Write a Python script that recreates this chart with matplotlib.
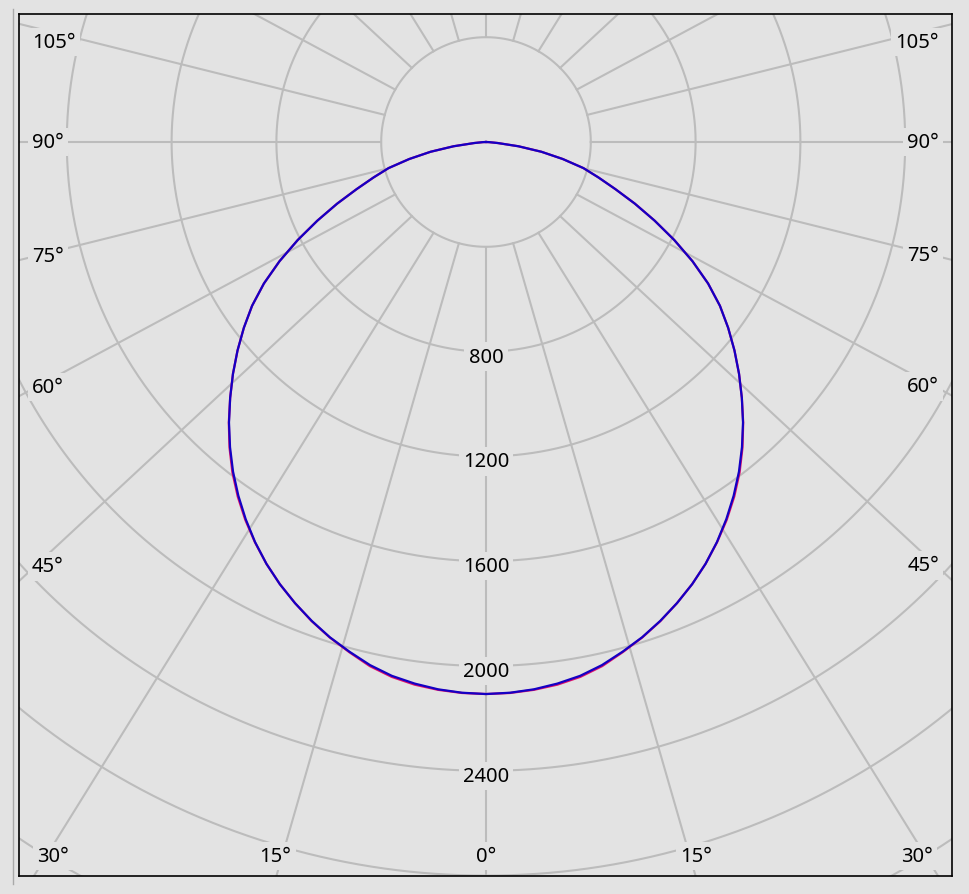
import numpy as np
import matplotlib.pyplot as plt
from matplotlib.lines import Line2D

#_Data__________________________________________________________________________
# Luminous intensity (cd) against gamma angle (deg from nadir), symmetric curves
gamma = [0, 2.5, 5, 7.5, 10, 12.5, 15, 17.5, 20, 22.5, 25, 27.5, 30, 32.5, 35,
         37.5, 40, 42.5, 45, 47.5, 50, 52.5, 55, 57.5, 60, 62.5, 65, 67.5, 70,
         72.5, 75, 77.5, 80, 82.5, 85, 87.5, 90]
i_c90_c270 = [2107, 2104, 2097, 2085, 2069, 2045, 2014, 1982, 1945, 1905, 1862,
              1815, 1763, 1707, 1648, 1586, 1520, 1452, 1381, 1310, 1238, 1165,
              1090, 1005, 910, 810, 710, 615, 525, 450, 385, 300, 215, 125, 45,
              12, 0]
i_c0_c180 = [2107, 2105, 2099, 2089, 2073, 2049, 2016, 1983, 1946, 1905, 1862,
             1815, 1764, 1710, 1652, 1590, 1523, 1453, 1381, 1310, 1238, 1165,
             1090, 1005, 910, 810, 710, 615, 525, 450, 385, 300, 215, 125, 45,
             12, 0]

ring_values = [400, 800, 1200, 1600, 2000, 2400, 2800, 3200, 3600]
ring_labels = [800, 1200, 1600, 2000, 2400]
spoke_angles = [0, 15, 30, 45, 60, 75, 90, 105, 120, 135, 150, 165, 180]
side_labels = [45, 60, 75, 90, 105]
bottom_labels = [0, 15, 30]

#_Style_________________________________________________________________________
bg = '#e3e3e3'
grid_color = '#bcbcbc'
c0_color = '#e0106a'
c90_color = '#1400c4'
font = dict(family=['Noto Sans', 'DejaVu Sans'], fontsize=14.5, color='black')
label_box = dict(facecolor=bg, edgecolor='none', pad=3)

# figure geometry in pixels
W, H = 969, 895
left, right, top, bottom = 19, 952, 15, 877
cx, cy = 486, 143            # pole of the diagram
px = 104.8 / 400             # pixels per cd
stretch = 1.07               # the spokes are drawn slightly widened

#_Figure________________________________________________________________________
fig = plt.figure(figsize=(W / 100, H / 100), dpi=100, facecolor=bg)
ax = fig.add_axes([left / W, 1 - bottom / H, (right - left) / W, (bottom - top) / H])
x_lo, x_hi = (left - cx) / px, (right - cx) / px
y_lo, y_hi = (cy - bottom) / px, (cy - top) / px
ax.set_xlim(x_lo, x_hi)
ax.set_ylim(y_lo, y_hi)
ax.set_facecolor(bg)
ax.set_xticks([])
ax.set_yticks([])
for s in ax.spines.values():
    s.set_color('black')
    s.set_linewidth(1.2)

fig.add_artist(Line2D([13 / W, 13 / W], [1 - 885 / H, 1 - 10 / H],
                      color='#a9a9a9', lw=1))

# rings
t = np.linspace(0, 2 * np.pi, 721)
for r in ring_values:
    ax.plot(r * np.cos(t), r * np.sin(t), color=grid_color, lw=1.5, zorder=1)

def spoke_dir(a, side):
    th = np.radians(a)
    d = np.array([side * stretch * np.sin(th), -np.cos(th)])
    return d / np.hypot(*d)

# spokes, starting on the innermost ring
r0 = ring_values[0]
for a in spoke_angles:
    for side in (-1, 1):
        if side == 1 and a in (0, 180):
            continue
        th = np.radians(a)
        d = spoke_dir(a, side)
        ax.plot([side * r0 * np.sin(th), d[0] * 5000], [-r0 * np.cos(th), d[1] * 5000],
                color=grid_color, lw=1.5, zorder=1)

# intensity curves
g = np.radians(gamma)
theta = np.concatenate([-g[::-1], g[1:]])
for vals, col in [(i_c0_c180, c0_color), (i_c90_c270, c90_color)]:
    v = np.array(vals, dtype=float)
    r = np.concatenate([v[::-1], v[1:]])
    ax.plot(r * np.sin(theta), -r * np.cos(theta), color=col, lw=1.6, zorder=2)

# ring labels along the nadir
for v in ring_labels:
    ax.text(0, -v - 5 / px, f'{v}', ha='center', va='center', bbox=label_box,
            zorder=4, **font)

# angle labels on the side frames
for a in side_labels:
    for side in (-1, 1):
        d = spoke_dir(a, side)
        X = (left + 13 - cx) / px if side < 0 else (right - 13 - cx) / px
        y = X * d[1] / d[0]
        y = min(y, y_hi - 28 / px)
        ax.text(X, y, f'{a}°', ha='left' if side < 0 else 'right', va='center',
                bbox=label_box, zorder=4, **font)

# angle labels on the bottom frame
for a in bottom_labels:
    for side in (-1, 1):
        if a == 0 and side == 1:
            continue
        d = spoke_dir(a, side)
        x = y_lo * d[0] / d[1]
        x = min(max(x, x_lo + 34 / px), x_hi - 35 / px)
        ax.text(x, (cy - 857) / px, f'{a}°', ha='center', va='center',
                bbox=label_box, zorder=4, **font)

fig.savefig('out.png', dpi=100, facecolor=bg)
